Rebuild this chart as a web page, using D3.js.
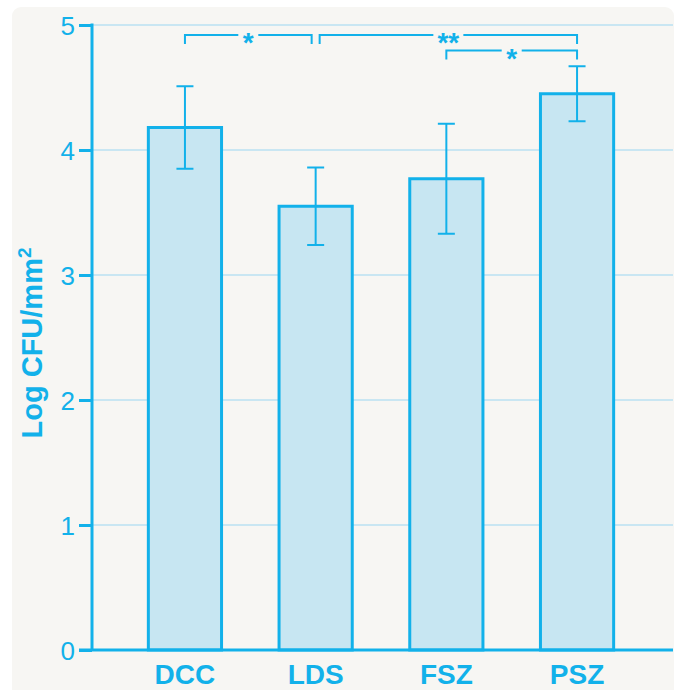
<!DOCTYPE html>
<html>
<head>
<meta charset="utf-8">
<script src="https://cdn.jsdelivr.net/npm/d3@7"></script>
<style>
body { margin: 0; background: #ffffff; }
</style>
</head>
<body>
<div id="chart"></div>
<script>
let groups = ['DCC', 'LDS', 'FSZ', 'PSZ']
let means = [4.18, 3.55, 3.77, 4.45]
let upper = [4.51, 3.86, 4.21, 4.67]
let lower = [3.85, 3.24, 3.33, 4.23]
let yTicks = [0, 1, 2, 3, 4, 5]
// significance brackets: from group, to group, level, label
let sigFrom = ['DCC', 'LDS', 'FSZ']
let sigTo = ['LDS', 'PSZ', 'PSZ']
let sigLevel = [0, 0, 1]
let sigLabel = ['*', '**', '*']

let width = 678
let height = 690
let cyan = '#12b1ea'
let fillColor = '#c7e6f2'
let gridColor = '#c9e6f2'

const svg = d3.select('#chart')
	.append('svg')
	.attr('width', width)
	.attr('height', height)

svg.append('rect')
	.attr('x', 12)
	.attr('y', 7)
	.attr('width', 662)
	.attr('height', 700)
	.attr('rx', 9)
	.attr('fill', '#f7f6f3')

let xScale = d3.scaleBand()
	.domain(groups)
	.range([119.6, 642.4])
	.paddingInner(0.44)
	.paddingOuter(0.22)

let yScale = d3.scaleLinear()
	.domain([0, 5])
	.range([650, 25])

let axisLeftX = 92
let axisRightX = 673

// gridlines
svg.selectAll('.grid')
	.data(yTicks.filter(d => d > 0))
	.enter()
	.append('line')
	.attr('x1', axisLeftX)
	.attr('x2', axisRightX)
	.attr('y1', d => yScale(d))
	.attr('y2', d => yScale(d))
	.attr('stroke', gridColor)
	.attr('stroke-width', 2)

// y axis
let yAxis = g => g.attr('transform', `translate(${axisLeftX},0)`)
	.call(d3.axisLeft(yScale).tickValues(yTicks).tickSize(13).tickPadding(4).tickFormat(d3.format('d')))
	.call(g => g.select('.domain').remove())

let yG = svg.append('g').call(yAxis)
yG.selectAll('line').attr('stroke', cyan).attr('stroke-width', 3)
yG.selectAll('text')
	.attr('fill', cyan)
	.attr('font-size', 26)
	.attr('font-family', 'Liberation Sans, Arial, sans-serif')
	.attr('dy', '0.36em')

svg.append('line')
	.attr('x1', axisLeftX)
	.attr('x2', axisLeftX)
	.attr('y1', yScale(5) - 1.5)
	.attr('y2', yScale(0))
	.attr('stroke', cyan)
	.attr('stroke-width', 3)

// bars
svg.selectAll('.bar')
	.data(groups)
	.enter()
	.append('rect')
	.attr('x', d => xScale(d))
	.attr('y', (d, i) => yScale(means[i]))
	.attr('width', xScale.bandwidth())
	.attr('height', (d, i) => yScale(0) - yScale(means[i]))
	.attr('fill', fillColor)
	.attr('stroke', cyan)
	.attr('stroke-width', 3)

// x axis line
svg.append('line')
	.attr('x1', 79)
	.attr('x2', axisRightX)
	.attr('y1', yScale(0))
	.attr('y2', yScale(0))
	.attr('stroke', cyan)
	.attr('stroke-width', 3)

// error bars
let cx = d => xScale(d) + xScale.bandwidth() / 2
let cap = 8.5

svg.selectAll('.err')
	.data(groups)
	.enter()
	.append('line')
	.attr('x1', cx)
	.attr('x2', cx)
	.attr('y1', (d, i) => yScale(upper[i]))
	.attr('y2', (d, i) => yScale(lower[i]))
	.attr('stroke', cyan)
	.attr('stroke-width', 2)

let caps = []
groups.forEach(function(d, i){
	caps.push({'g': d, 'v': upper[i]})
	caps.push({'g': d, 'v': lower[i]})
})

svg.selectAll('.cap')
	.data(caps)
	.enter()
	.append('line')
	.attr('x1', d => cx(d.g) - cap)
	.attr('x2', d => cx(d.g) + cap)
	.attr('y1', d => yScale(d.v))
	.attr('y2', d => yScale(d.v))
	.attr('stroke', cyan)
	.attr('stroke-width', 2)

// x labels
svg.selectAll('.xlab')
	.data(groups)
	.enter()
	.append('text')
	.attr('x', cx)
	.attr('y', 684)
	.attr('text-anchor', 'middle')
	.attr('font-size', 28)
	.attr('font-weight', 'bold')
	.attr('font-family', 'Liberation Sans, Arial, sans-serif')
	.attr('fill', cyan)
	.text(d => d)

// y label
let yLab = svg.append('text')
	.attr('transform', 'translate(42,343) rotate(-90)')
	.attr('text-anchor', 'middle')
	.attr('font-size', 29)
	.attr('font-weight', 'bold')
	.attr('font-family', 'Liberation Sans, Arial, sans-serif')
	.attr('fill', cyan)
yLab.append('tspan').text('Log CFU/mm')
yLab.append('tspan').attr('font-size', 19).attr('dy', -11).text('2')

// significance brackets
let levelY = [35, 50.5]
let bracketDrop = 9

sigFrom.forEach(function(f, i){
	let t = sigTo[i]
	let x1 = cx(f)
	let x2 = cx(t)
	if (i == 0) x2 = x2 - 4
	if (i == 1) x1 = x1 + 4
	let y = levelY[sigLevel[i]]
	let label = sigLabel[i]
	let mid = (x1 + x2) / 2
	let half = label.length == 1 ? 10 : 15
	let path = `M${x1},${y + bracketDrop}V${y}H${mid - half}M${mid + half},${y}H${x2}V${y + bracketDrop}`
	svg.append('path')
		.attr('d', path)
		.attr('fill', 'none')
		.attr('stroke', cyan)
		.attr('stroke-width', 2)
	svg.append('text')
		.attr('x', mid)
		.attr('y', y + 17)
		.attr('text-anchor', 'middle')
		.attr('font-size', 28)
		.attr('font-weight', 'bold')
		.attr('font-family', 'Liberation Sans, Arial, sans-serif')
		.attr('fill', cyan)
		.text(label)
})
</script>
</body>
</html>
